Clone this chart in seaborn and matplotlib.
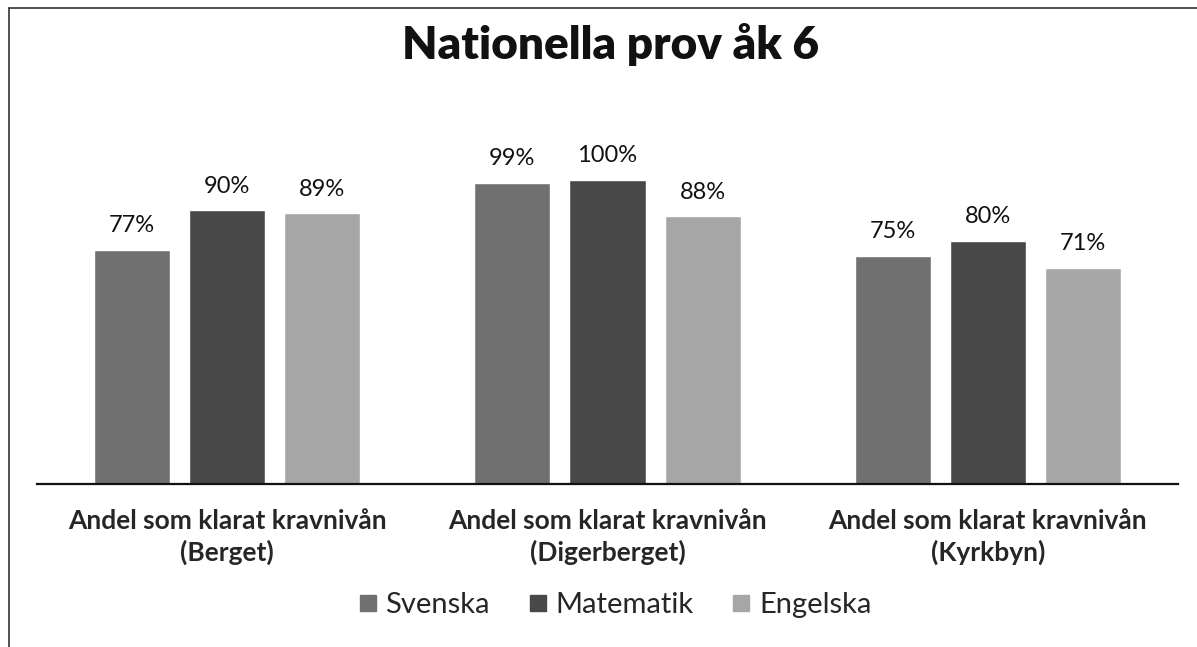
import pandas as pd
import numpy as np
import seaborn as sns
import matplotlib.pyplot as plt
from matplotlib.lines import Line2D

schools = ["Andel som klarat kravnivån\n(Berget)",
           "Andel som klarat kravnivån\n(Digerberget)",
           "Andel som klarat kravnivån\n(Kyrkbyn)"]
subjects = ["Svenska", "Matematik", "Engelska"]
svenska = [0.77, 0.99, 0.75]
matematik = [0.90, 1.00, 0.80]
engelska = [0.89, 0.88, 0.71]

df = pd.DataFrame({
    "skola": schools * 3,
    "amne": [s for s in subjects for _ in schools],
    "andel": svenska + matematik + engelska,
})

colors = ["#707070", "#484848", "#a6a6a6"]

sns.set_style("white")
plt.rcParams["font.family"] = ["Lato", "DejaVu Sans"]

fig = plt.figure(figsize=(11.97, 6.47), dpi=100)
ax = fig.add_axes([37/1197, 163/647, (1178-37)/1197, 304/647])

sns.barplot(data=df, x="skola", y="andel", hue="amne", hue_order=subjects,
            palette=colors, width=0.75, gap=0.2, ax=ax, legend=False)

for cont in ax.containers:
    ax.bar_label(cont, labels=[f"{v*100:.0f}%" for v in cont.datavalues],
                 padding=10, fontsize=17, color="#111111")

ax.set_ylim(0, 1)
ax.set_xlim(-0.5, 2.5)
ax.set_xlabel("")
ax.set_ylabel("")
ax.set_yticks([])
for side in ["top", "right", "left"]:
    ax.spines[side].set_visible(False)
ax.spines["bottom"].set_color("#111111")
ax.spines["bottom"].set_linewidth(1.6)
ax.tick_params(axis="x", length=0, pad=18)
for lab in ax.get_xticklabels():
    lab.set_fontsize(19)
    lab.set_fontweight("bold")
    lab.set_linespacing(1.3)

fig.text(0.51, 1 - 44/647, "Nationella prov åk 6", ha="center", va="center",
         fontsize=33, fontweight="heavy", color="#111111")

handles = [Line2D([], [], marker="s", linestyle="", markersize=12,
                  markerfacecolor=c, markeredgecolor=c) for c in colors]
fig.legend(handles, subjects, loc="center", bbox_to_anchor=(0.512, 1 - 605/647),
           ncol=3, frameon=False, fontsize=21, handletextpad=0.15,
           columnspacing=1.2, handlelength=0.9)

# ram runt diagrammet (vänster och överkant syns i skanningen)
fig.add_artist(Line2D([9/1197, 9/1197], [0, 1 - 8/647], transform=fig.transFigure,
                      color="#333333", linewidth=1.2))
fig.add_artist(Line2D([9/1197, 1], [1 - 8/647, 1 - 8/647], transform=fig.transFigure,
                      color="#333333", linewidth=1.2))

fig.savefig("out.png", dpi=100, facecolor="white")
